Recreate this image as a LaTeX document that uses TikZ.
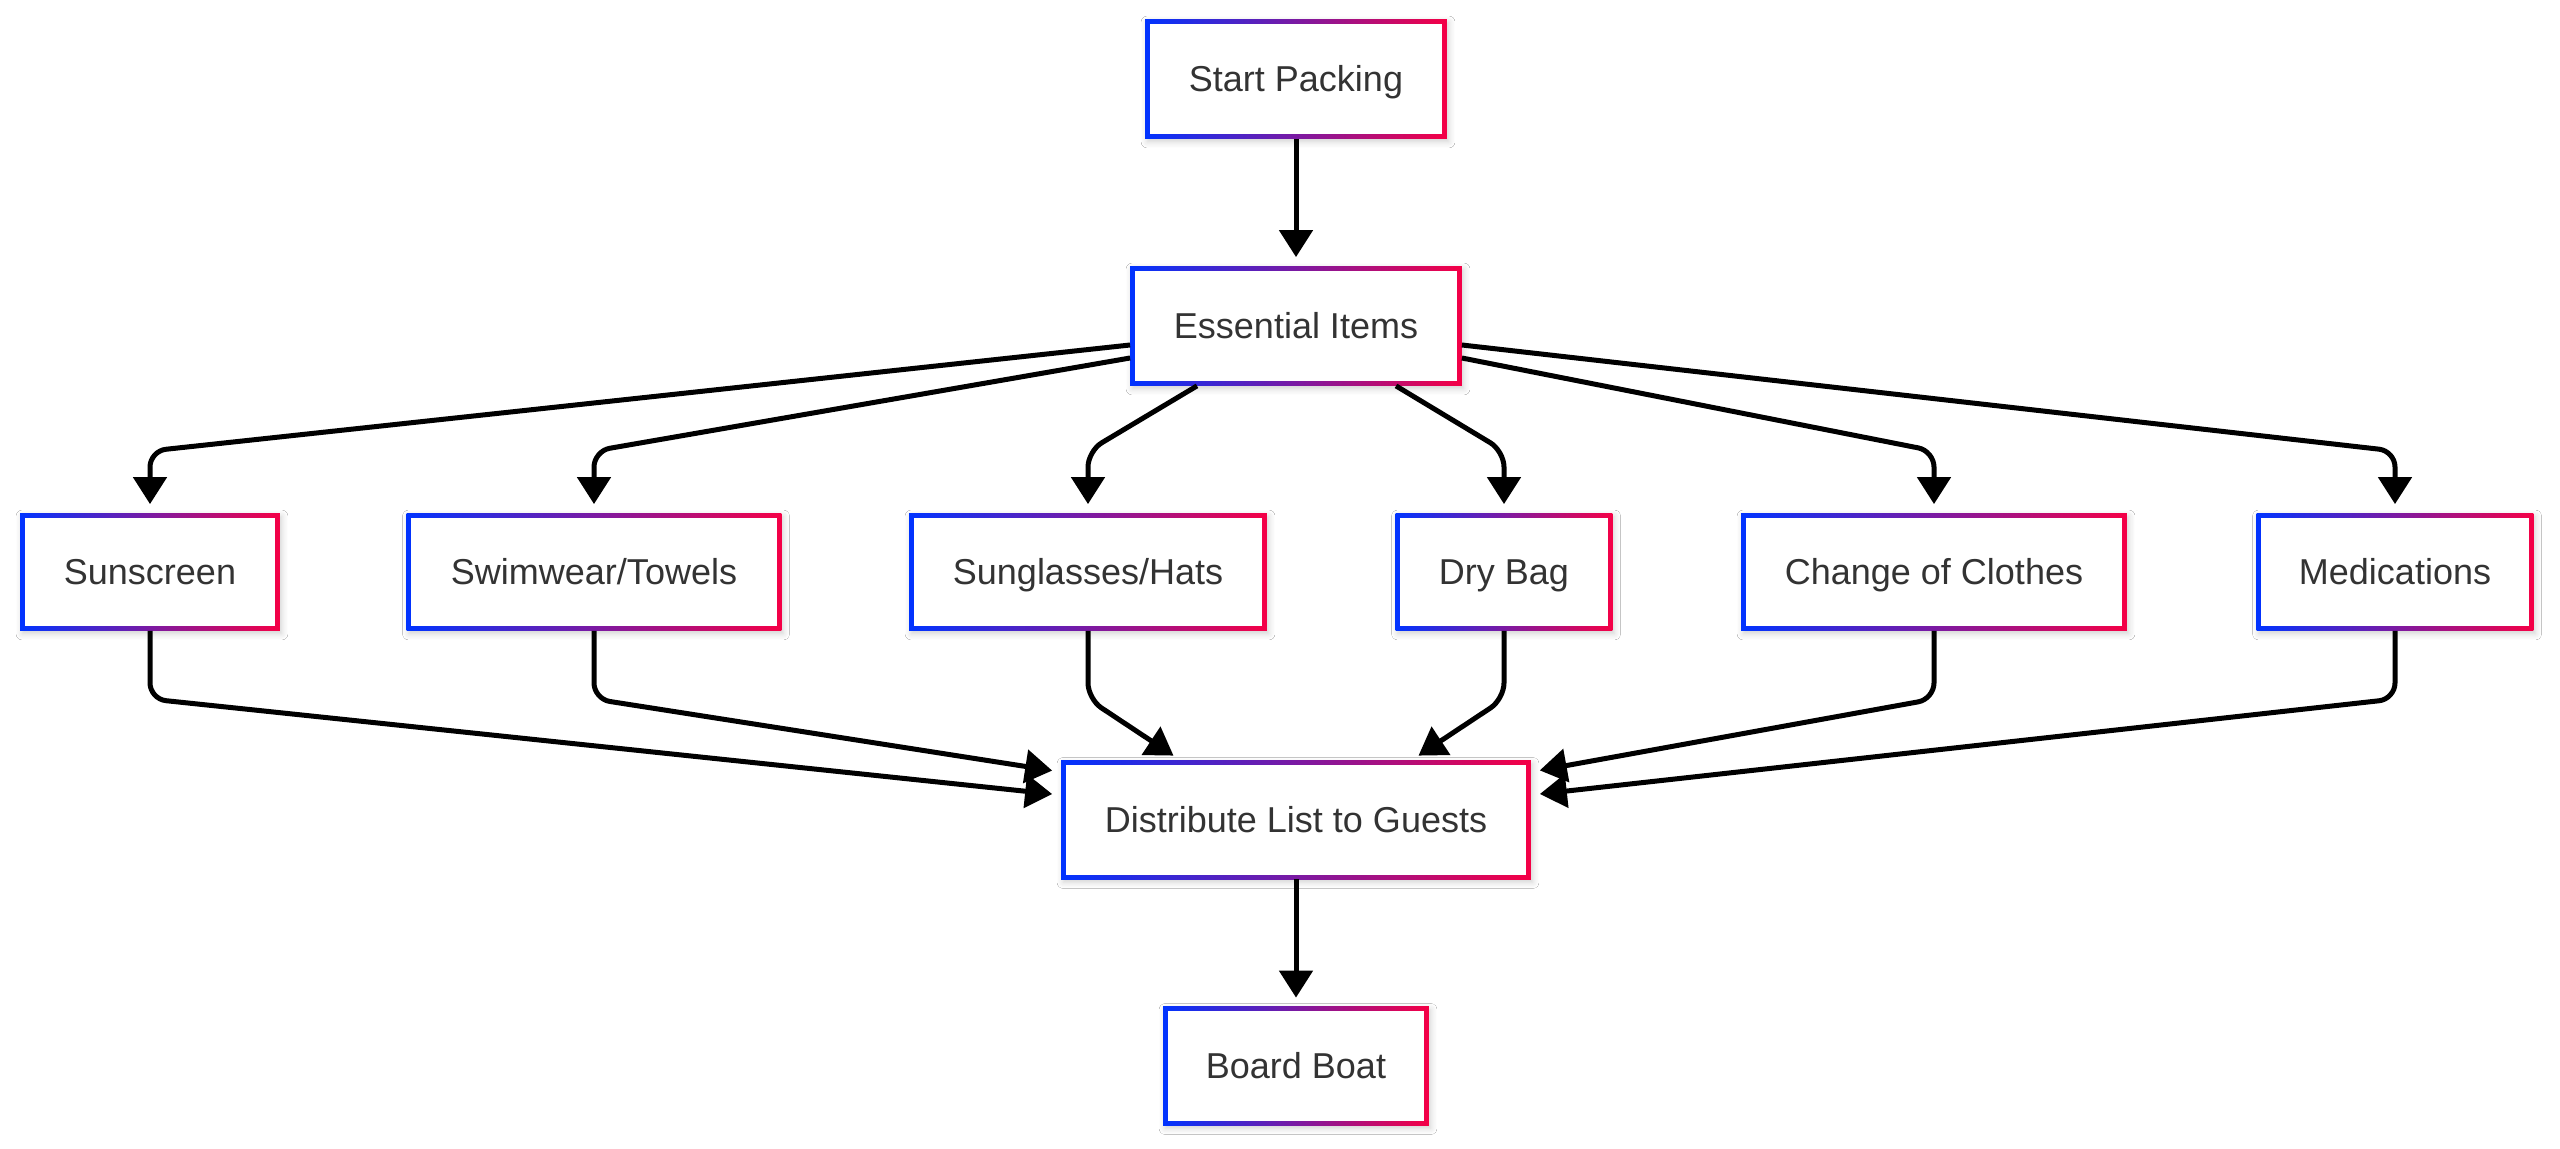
\documentclass[tikz,border=0pt]{standalone}
\usepackage{fontspec}
\setmainfont{Liberation Sans}
\usetikzlibrary{arrows.meta,calc,backgrounds,shadows.blur}
\definecolor{gbl}{RGB}{0,51,255}
\definecolor{grd}{RGB}{245,0,70}
\definecolor{txt}{RGB}{51,51,51}
\tikzset{
  boxnode/.style={rectangle, inner sep=0pt, text height=12.9pt, text depth=0pt, font=\fontsize{18}{22}\selectfont, text=txt},
  edge/.style={draw=black, line width=2.5pt, rounded corners=8pt, -{Triangle[length=13.5pt,width=16.5pt]}, shorten >=4.5pt},
}
\newcommand{\gbox}[6]{%
  \node[boxnode, minimum width=#4, minimum height=#5] (#1) at (#2,#3) {#6};
  \begin{scope}[on background layer]
    \path[blur shadow={shadow xshift=1pt, shadow yshift=-1.5pt, shadow opacity=18, shadow blur steps=6, shadow blur radius=3pt}] (#1.south west) rectangle (#1.north east);
    \shade[left color=gbl, right color=grd] (#1.south west) rectangle (#1.north east);
    \fill[white] ([shift={(2.4pt,2.4pt)}]#1.south west) rectangle ([shift={(-2.4pt,-2.4pt)}]#1.north east);
  \end{scope}}
\begin{document}
\begin{tikzpicture}[x=0.5pt,y=-0.5pt]
\useasboundingbox (0,0) rectangle (2560,1149);
\begin{scope}[on background layer]
  \fill[white] (0,0) rectangle (2560,1149);
\end{scope}
\gbox{start}{1296}{79}{150.5pt}{59.5pt}{Start Packing}
\gbox{ess}{1296}{326}{165.5pt}{59.5pt}{Essential Items}
\gbox{sun}{150}{572}{129.5pt}{58.5pt}{Sunscreen}
\gbox{swim}{594}{572}{187pt}{58.5pt}{Swimwear/Towels}
\gbox{glass}{1088}{572}{178.5pt}{58.5pt}{Sunglasses/Hats}
\gbox{dry}{1504}{572}{108pt}{58.5pt}{Dry Bag}
\gbox{chg}{1934}{572}{192.5pt}{58.5pt}{Change of Clothes}
\gbox{med}{2395}{572}{138pt}{58.5pt}{Medications}
\gbox{dist}{1296}{820}{234.5pt}{59pt}{Distribute List to Guests}
\gbox{board}{1296}{1066}{132.5pt}{59pt}{Board Boat}
\coordinate (yt) at (0,451);
\coordinate (yb) at (0,699);
\draw[edge] (start) -- (ess);
\draw[edge] ($(ess.west)+(0,19)$) -- (sun.north |- yt) -- (sun.north);
\draw[edge] ($(ess.west)+(0,32)$) -- (swim.north |- yt) -- (swim.north);
\draw[edge] ($(ess.south)+(-99,0)$) -- (glass.north |- yt) -- (glass.north);
\draw[edge] ($(ess.south)+(100,0)$) -- (dry.north |- yt) -- (dry.north);
\draw[edge] ($(ess.east)+(0,32)$) -- (chg.north |- yt) -- (chg.north);
\draw[edge] ($(ess.east)+(0,19)$) -- (med.north |- yt) -- (med.north);
\draw[edge] (sun.south) -- (sun.south |- yb) -- ($(dist.west)+(0,-25)$);
\draw[edge] (swim.south) -- (swim.south |- yb) -- ($(dist.west)+(0,-48)$);
\draw[edge] (glass.south) -- (glass.south |- yb) -- ($(dist.north)+(-115,0)$);
\draw[edge] (dry.south) -- (dry.south |- yb) -- ($(dist.north)+(115,0)$);
\draw[edge] (chg.south) -- (chg.south |- yb) -- ($(dist.east)+(0,-48)$);
\draw[edge] (med.south) -- (med.south |- yb) -- ($(dist.east)+(0,-25)$);
\draw[edge] (dist) -- (board);
\end{tikzpicture}
\end{document}
